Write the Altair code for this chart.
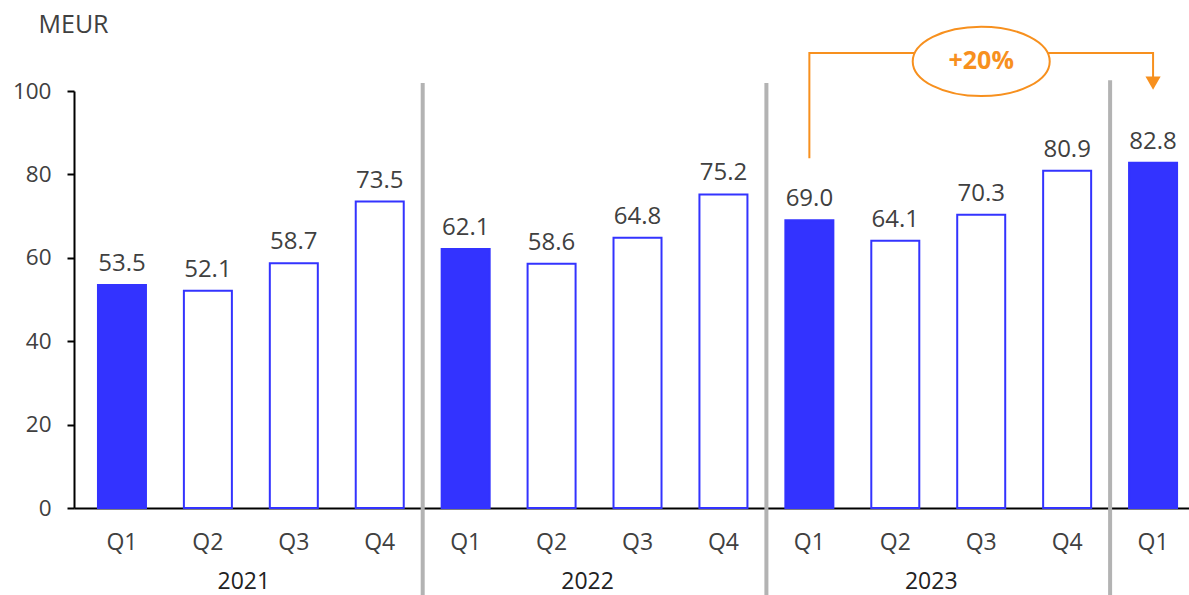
import altair as alt
import pandas as pd

# Quarterly figures, MEUR
years = ["2021"] * 4 + ["2022"] * 4 + ["2023"] * 4 + ["2024"]
quarters = ["Q1", "Q2", "Q3", "Q4"] * 3 + ["Q1"]
values = [53.5, 52.1, 58.7, 73.5, 62.1, 58.6, 64.8, 75.2, 69.0, 64.1, 70.3, 80.9, 82.8]

year_labels = ["2021", "2022", "2023"]
year_centers = [1.5, 5.5, 9.5]
separator_x = [3.5, 7.5, 11.5]
separator_top = [101.9, 101.9, 102.6]

change_label = "+20%"

BLUE = "#3333FF"
ORANGE = "#F7901E"
GREY_TEXT = "#404040"
SEP = "#B3B3B3"
FONT = "Open Sans"

df = pd.DataFrame({
    "idx": list(range(len(values))),
    "year": years,
    "quarter": quarters,
    "value": values,
    "label": [f"{v:.1f}" for v in values],
})

xs = alt.Scale(domain=[-0.5, 12.36], nice=False, zero=False)
ys = alt.Scale(domain=[0, 100], nice=False, zero=True)

x_axis = alt.Axis(labels=False, ticks=False, title=None, grid=False,
                  domainColor="black", domainWidth=2)
y_axis = alt.Axis(values=[0, 20, 40, 60, 80, 100], grid=False,
                  tickSize=7, tickColor="black", tickWidth=2,
                  domainColor="black", domainWidth=2,
                  labelFont=FONT, labelFontSize=22.5, labelColor=GREY_TEXT,
                  labelPadding=16,
                  title="MEUR", titleAngle=0, titleX=-36, titleY=-67,
                  titleAlign="left", titleBaseline="middle",
                  titleFont=FONT, titleFontSize=25, titleFontWeight="normal",
                  titleColor=GREY_TEXT)


def X(field):
    return alt.X(field, scale=xs, axis=x_axis)


def Y(field):
    return alt.Y(field, scale=ys, axis=y_axis)


base = alt.Chart(df)

bars = base.mark_bar(size=48, stroke=BLUE, strokeWidth=2).encode(
    x=X("idx:Q"),
    y=Y("value:Q"),
    fill=alt.condition(alt.datum.quarter == "Q1", alt.value(BLUE), alt.value("white")),
)

value_text = base.mark_text(font=FONT, fontSize=24, color=GREY_TEXT,
                            baseline="middle", dy=-21).encode(
    x=X("idx:Q"),
    y=Y("value:Q"),
    text="label:N",
)

quarter_text = base.mark_text(font=FONT, fontSize=23, color=GREY_TEXT,
                              baseline="middle").encode(
    x=X("idx:Q"),
    y=alt.value(452),
    text="quarter:N",
)

years_df = pd.DataFrame({"x": year_centers, "year": year_labels})
year_text = alt.Chart(years_df).mark_text(font=FONT, fontSize=23, color="#222222",
                                          baseline="middle", dx=-7).encode(
    x=X("x:Q"),
    y=alt.value(491),
    text="year:N",
)

sep_df = pd.DataFrame({"x": separator_x, "top": separator_top, "bottom": [-21.5] * 3})
separators = alt.Chart(sep_df).mark_rule(color=SEP, strokeWidth=4).encode(
    x=X("x:Q"),
    y=Y("top:Q"),
    y2="bottom:Q",
)

# Growth connector from 2023 Q1 to 2024 Q1
start_i, end_i = 8, 12
conn_df = pd.DataFrame({
    "x": [start_i, start_i, end_i, end_i],
    "y": [83.9, 109.1, 109.1, 102.0],
    "o": [0, 1, 2, 3],
})
connector = alt.Chart(conn_df).mark_line(color=ORANGE, strokeWidth=2).encode(
    x=X("x:Q"),
    y=Y("y:Q"),
    order="o:Q",
)

arrow_df = pd.DataFrame({"x": [end_i], "y": [101.9]})
arrow = alt.Chart(arrow_df).mark_point(shape="triangle-down", filled=True,
                                       color=ORANGE, opacity=1, size=230).encode(
    x=X("x:Q"),
    y=Y("y:Q"),
)

badge_df = pd.DataFrame({"x": [(start_i + end_i) / 2], "y": [107.1], "t": [change_label]})
ellipse_path = "M -1 0 A 1 0.507 0 1 1 1 0 A 1 0.507 0 1 1 -1 0 Z"
badge = alt.Chart(badge_df).mark_point(shape=ellipse_path, filled=True, fill="white",
                                       stroke=ORANGE, strokeWidth=2, opacity=1,
                                       size=137 * 137).encode(
    x=X("x:Q"),
    y=Y("y:Q"),
)
badge_text = alt.Chart(badge_df).mark_text(font=FONT, fontSize=25, fontWeight="bold",
                                           color=ORANGE, baseline="middle").encode(
    x=X("x:Q"),
    y=Y("y:Q"),
    text="t:N",
)

chart = alt.layer(
    separators, bars, value_text, quarter_text, year_text,
    connector, arrow, badge, badge_text,
).properties(
    width=1115, height=417,
    padding={"left": 74, "top": 91, "right": 0, "bottom": 87},
    autosize=alt.AutoSizeParams(type="none"),
).configure_view(stroke=None)

chart.save("out.html", embed_options={"renderer": "svg", "actions": False})
